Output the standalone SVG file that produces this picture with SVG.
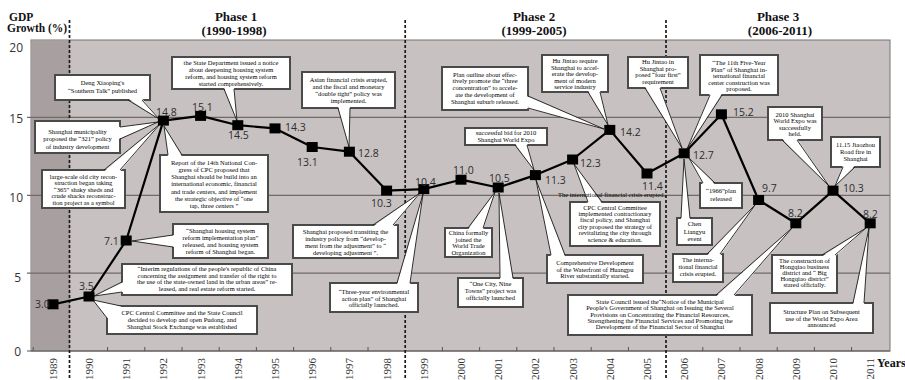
<svg xmlns="http://www.w3.org/2000/svg" width="905" height="380" viewBox="0 0 905 380">
<style>
  .title{font-family:"Liberation Serif",serif;font-weight:bold;fill:#111}
  .phase{font-family:"Liberation Serif",serif;font-weight:bold;font-size:13px;fill:#111;text-anchor:middle}
  .ylab{font-family:"Open Sans","Liberation Sans",sans-serif;font-size:12px;fill:#333;text-anchor:end}
  .xlab{font-family:"Liberation Serif",serif;font-size:11px;fill:#333;text-anchor:end}
  .val{font-family:"Open Sans","Liberation Sans",sans-serif;font-size:10.5px;fill:#2e2e2e}
  .grid{stroke:#716a6a;stroke-width:1.3}
  .dash{stroke:#1a1a1a;stroke-width:1.7;stroke-dasharray:3 2;fill:none}
  .box{fill:#fff;stroke:#4a4a4a;stroke-width:2}
  .wf{fill:#fff}
  .wl{fill:none;stroke:#1a1a1a;stroke-width:0.9}
  .ct{font-family:"Liberation Serif",serif;font-size:6.5px;fill:#000;text-anchor:middle}
  .note{font-family:"Liberation Serif",serif;font-size:6.5px;fill:#000}
  .mk{fill:#000}
</style>

<!-- plot background -->
<g id="plot">
  <rect x="31" y="40" width="859" height="311" fill="#c7c1c1" stroke="#7a7373" stroke-width="1"/>
  <rect x="31.5" y="40.5" width="38.5" height="310" fill="#a8a0a0"/>
  <line class="grid" x1="27" y1="117.4" x2="890" y2="117.4"/>
  <line class="grid" x1="27" y1="195.3" x2="890" y2="195.3"/>
  <line class="grid" x1="27" y1="273.2" x2="890" y2="273.2"/>
  <line x1="27" y1="351" x2="890" y2="351" stroke="#555" stroke-width="1.2"/>
  <g stroke="#555" stroke-width="1">
    <line x1="33.2" y1="347" x2="33.2" y2="351"/><line x1="107.6" y1="347" x2="107.6" y2="351"/>
    <line x1="144.8" y1="347" x2="144.8" y2="351"/><line x1="182" y1="347" x2="182" y2="351"/>
    <line x1="219.2" y1="347" x2="219.2" y2="351"/><line x1="256.4" y1="347" x2="256.4" y2="351"/>
    <line x1="293.6" y1="347" x2="293.6" y2="351"/><line x1="330.8" y1="347" x2="330.8" y2="351"/>
    <line x1="368" y1="347" x2="368" y2="351"/><line x1="442.4" y1="347" x2="442.4" y2="351"/>
    <line x1="479.6" y1="347" x2="479.6" y2="351"/><line x1="516.8" y1="347" x2="516.8" y2="351"/>
    <line x1="554" y1="347" x2="554" y2="351"/><line x1="591.2" y1="347" x2="591.2" y2="351"/>
    <line x1="628.4" y1="347" x2="628.4" y2="351"/><line x1="702.8" y1="347" x2="702.8" y2="351"/>
    <line x1="740" y1="347" x2="740" y2="351"/><line x1="777.2" y1="347" x2="777.2" y2="351"/>
    <line x1="814.4" y1="347" x2="814.4" y2="351"/><line x1="851.6" y1="347" x2="851.6" y2="351"/>
  </g>
  <!-- phase separators -->
  <line class="dash" x1="69.5" y1="20" x2="69.5" y2="380"/>
  <line class="dash" x1="405.2" y1="20" x2="405.2" y2="380"/>
  <line class="dash" x1="666" y1="20" x2="666" y2="380"/>
</g>

<!-- axis titles and labels -->
<g id="axes">
  <text class="title" x="9" y="21" font-size="11.5">GDP</text>
  <text class="title" x="7" y="31.5" font-size="11.5">Growth (%)</text>
  <text class="ylab" x="23" y="51.5">20</text>
  <text class="ylab" x="23" y="122.5">15</text>
  <text class="ylab" x="23" y="201.5">10</text>
  <text class="ylab" x="21" y="281.5">5</text>
  <text class="ylab" x="21" y="356">0</text>
  <text class="title" x="877" y="367" font-size="12">Years</text>
  <text class="xlab" transform="translate(57,358) rotate(-90)">1989</text>
  <text class="xlab" transform="translate(93,358) rotate(-90)">1990</text>
  <text class="xlab" transform="translate(130.2,358) rotate(-90)">1991</text>
  <text class="xlab" transform="translate(167.4,358) rotate(-90)">1992</text>
  <text class="xlab" transform="translate(204.6,358) rotate(-90)">1993</text>
  <text class="xlab" transform="translate(241.8,358) rotate(-90)">1994</text>
  <text class="xlab" transform="translate(279,358) rotate(-90)">1995</text>
  <text class="xlab" transform="translate(316.2,358) rotate(-90)">1996</text>
  <text class="xlab" transform="translate(353.4,358) rotate(-90)">1997</text>
  <text class="xlab" transform="translate(390.6,358) rotate(-90)">1998</text>
  <text class="xlab" transform="translate(427.8,358) rotate(-90)">1999</text>
  <text class="xlab" transform="translate(465,358) rotate(-90)">2000</text>
  <text class="xlab" transform="translate(502.2,358) rotate(-90)">2001</text>
  <text class="xlab" transform="translate(539.4,358) rotate(-90)">2002</text>
  <text class="xlab" transform="translate(576.6,358) rotate(-90)">2003</text>
  <text class="xlab" transform="translate(613.8,358) rotate(-90)">2004</text>
  <text class="xlab" transform="translate(651,358) rotate(-90)">2005</text>
  <text class="xlab" transform="translate(688.2,358) rotate(-90)">2006</text>
  <text class="xlab" transform="translate(725.4,358) rotate(-90)">2007</text>
  <text class="xlab" transform="translate(762.6,358) rotate(-90)">2008</text>
  <text class="xlab" transform="translate(799.8,358) rotate(-90)">2009</text>
  <text class="xlab" transform="translate(837,358) rotate(-90)">2010</text>
  <text class="xlab" transform="translate(874.2,358) rotate(-90)">2011</text>
</g>

<!-- phase headings -->
<g id="phases">
  <text class="phase" x="236" y="21">Phase 1</text>
  <text class="phase" x="234" y="35">(1990-1998)</text>
  <text class="phase" x="534" y="21">Phase 2</text>
  <text class="phase" x="534" y="35">(1999-2005)</text>
  <text class="phase" x="778" y="21">Phase 3</text>
  <text class="phase" x="780" y="35">(2006-2011)</text>
</g>

<!-- event callouts -->
<g id="ev-deng">
  <rect class="box" x="55" y="75" width="95" height="25"/>
  <polygon class="wf" points="128,98.5 142,98.5 159,119"/>
  <polyline class="wl" points="128,100 159,119 142,100"/>
  <text class="ct" x="102.5" y="85">Deng Xiaoping's</text>
  <text class="ct" x="102.5" y="93">“Southern Talk” published</text>
</g>
<g id="ev-321">
  <rect class="box" x="35" y="121" width="85" height="32"/>
  <polygon class="wf" points="118.5,127 118.5,139 158,122"/>
  <polyline class="wl" points="120,127 158,122 120,139"/>
  <text class="ct" x="77.5" y="133.5">Shanghai municipality</text>
  <text class="ct" x="77.5" y="141">proposed the “321” policy</text>
  <text class="ct" x="77.5" y="148.5">of industry development</text>
</g>
<g id="ev-oldcity">
  <rect class="box" x="42" y="170" width="83" height="38"/>
  <polygon class="wf" points="104,171.5 120,171.5 160,124"/>
  <polyline class="wl" points="104,170 160,124 120,170"/>
  <text class="ct" x="83.5" y="178.5">large-scale old city recon-</text>
  <text class="ct" x="83.5" y="185">struction began taking</text>
  <text class="ct" x="83.5" y="191.5">“365” shaky sheds and</text>
  <text class="ct" x="83.5" y="198">crude shacks reconstruc-</text>
  <text class="ct" x="83.5" y="204.5">tion project as a symbol</text>
</g>
<g id="ev-14th">
  <rect class="box" x="160" y="155" width="108" height="57"/>
  <polygon class="wf" points="168,156.5 182,156.5 164,126"/>
  <polyline class="wl" points="168,155 164,126 182,155"/>
  <text class="ct" x="214" y="164.5">Report of the 14th National Con-</text>
  <text class="ct" x="214" y="171.8">gress of CPC proposed that</text>
  <text class="ct" x="214" y="179.1">Shanghai should be build into an</text>
  <text class="ct" x="214" y="186.4">international economic, financial</text>
  <text class="ct" x="214" y="193.7">and trade centers, and implement</text>
  <text class="ct" x="214" y="201">the strategic objective of “one</text>
  <text class="ct" x="214" y="208.3">tap, three centers ”</text>
</g>
<g id="ev-housing94">
  <rect class="box" x="172" y="57" width="118" height="32"/>
  <polygon class="wf" points="224,87.5 234,87.5 237,121"/>
  <polyline class="wl" points="224,89 237,121 234,89"/>
  <text class="ct" x="231" y="65">the State Department issued a notice</text>
  <text class="ct" x="231" y="72">about deepening housing system</text>
  <text class="ct" x="231" y="79">reform, and housing system reform</text>
  <text class="ct" x="231" y="86">started comprehensively.</text>
</g>
<g id="ev-asian">
  <rect class="box" x="302" y="72" width="93" height="36"/>
  <polygon class="wf" points="338,106.5 350,106.5 349,147"/>
  <polyline class="wl" points="338,108 349,147 350,108"/>
  <text class="ct" x="348.5" y="81.5">Asian financial crisis erupted,</text>
  <text class="ct" x="348.5" y="88.5">and the fiscal and monetary</text>
  <text class="ct" x="348.5" y="95.5">“double tight” policy was</text>
  <text class="ct" x="348.5" y="102.5">implemented.</text>
</g>
<g id="ev-housing91">
  <rect class="box" x="173" y="224" width="95" height="34"/>
  <polygon class="wf" points="174.5,235 174.5,247 132,241"/>
  <polyline class="wl" points="173,235 132,241 173,247"/>
  <text class="ct" x="220.5" y="233">“Shanghai housing system</text>
  <text class="ct" x="220.5" y="240">reform implementation plan”</text>
  <text class="ct" x="220.5" y="247">released, and housing system</text>
  <text class="ct" x="220.5" y="254">reform of Shanghai began.</text>
</g>
<g id="ev-interim">
  <rect class="box" x="122" y="264" width="170" height="31"/>
  <polygon class="wf" points="123.5,282 123.5,292 94,296"/>
  <polyline class="wl" points="122,282 94,296 122,292"/>
  <text class="ct" x="207" y="271">“Interim regulations of the people's republic of China</text>
  <text class="ct" x="207" y="277.5">concerning the assignment and transfer of the right to</text>
  <text class="ct" x="207" y="284">the use of the state-owned land in the urban areas” re-</text>
  <text class="ct" x="207" y="290.5">leased, and real estate reform started.</text>
</g>
<g id="ev-pudong">
  <rect class="box" x="107" y="306" width="150" height="28"/>
  <polygon class="wf" points="93,300 121,306 121,307.5 108.5,307.5 108.5,318 107,318"/>
  <polyline class="wl" points="121,306 93,300 107,318"/>
  <text class="ct" x="182" y="315">CPC Central Committee and the State Council</text>
  <text class="ct" x="182" y="322">decided to develop and open Pudong, and</text>
  <text class="ct" x="182" y="329">Shanghai Stock Exchange was established</text>
</g>
<g id="ev-industry">
  <rect class="box" x="293" y="225" width="105" height="33"/>
  <polygon class="wf" points="373,226.5 393,226.5 420,193"/>
  <polyline class="wl" points="373,225 420,193 393,225"/>
  <text class="ct" x="345.5" y="233.5">Shanghai proposed transiting the</text>
  <text class="ct" x="345.5" y="240.5">industry policy from “develop-</text>
  <text class="ct" x="345.5" y="247.5">ment from the adjustment” to “</text>
  <text class="ct" x="345.5" y="254.5">developing adjustment ”.</text>
</g>
<g id="ev-env">
  <rect class="box" x="330" y="283" width="88" height="29"/>
  <polygon class="wf" points="397,284.5 410,284.5 423,194"/>
  <polyline class="wl" points="397,283 423,194 410,283"/>
  <text class="ct" x="374" y="294">“Three-year environmental</text>
  <text class="ct" x="374" y="300.5">action plan” of Shanghai</text>
  <text class="ct" x="374" y="307">officially launched.</text>
</g>
<g id="ev-suburb">
  <rect class="box" x="442" y="67" width="86" height="43"/>
  <polygon class="wf" points="526.5,96 526.5,108 604,129"/>
  <polyline class="wl" points="528,96 604,129 528,108"/>
  <text class="ct" x="485" y="76.5">Plan outline about effec-</text>
  <text class="ct" x="485" y="83.3">tively promote the “three</text>
  <text class="ct" x="485" y="90.1">concentration” to accele-</text>
  <text class="ct" x="485" y="96.9">ate the development of</text>
  <text class="ct" x="485" y="103.7">Shanghai suburb released.</text>
</g>
<g id="ev-service">
  <rect class="box" x="542" y="55" width="66" height="37"/>
  <polygon class="wf" points="588,90.5 600,90.5 608,125"/>
  <polyline class="wl" points="588,92 608,125 600,92"/>
  <text class="ct" x="575" y="63">Hu Jintao require</text>
  <text class="ct" x="575" y="69.5">Shanghai to accel-</text>
  <text class="ct" x="575" y="76">erate the develop-</text>
  <text class="ct" x="575" y="82.5">ment of modern</text>
  <text class="ct" x="575" y="89">service industry</text>
</g>
<g id="ev-bid">
  <rect class="box" x="465" y="128" width="82" height="17"/>
  <polygon class="wf" points="515,143.5 527,143.5 534,170"/>
  <polyline class="wl" points="515,145 534,170 527,145"/>
  <text class="ct" x="506" y="134.8">successful bid for 2010</text>
  <text class="ct" x="506" y="141.8">Shanghai World Expo</text>
</g>
<g id="ev-wto">
  <rect class="box" x="445" y="228" width="47" height="29"/>
  <polygon class="wf" points="468,229.5 483,229.5 495,192"/>
  <polyline class="wl" points="468,228 495,192 483,228"/>
  <text class="ct" x="468.5" y="235">China formally</text>
  <text class="ct" x="468.5" y="241.5">joined the</text>
  <text class="ct" x="468.5" y="248">World Trade</text>
  <text class="ct" x="468.5" y="254.5">Organization</text>
</g>
<g id="ev-onecity">
  <rect class="box" x="458" y="278" width="65" height="29"/>
  <polygon class="wf" points="500,279.5 513,279.5 499,193"/>
  <polyline class="wl" points="500,278 499,193 513,278"/>
  <text class="ct" x="490.5" y="286">“One City, Nine</text>
  <text class="ct" x="490.5" y="293">Towns” project was</text>
  <text class="ct" x="490.5" y="300">officially launched</text>
</g>
<g id="ev-huangpu">
  <rect class="box" x="547" y="255" width="96" height="28"/>
  <polygon class="wf" points="551,256.5 565,256.5 536,180"/>
  <polyline class="wl" points="551,255 536,180 565,255"/>
  <text class="ct" x="595" y="265">Comprehensive Development</text>
  <text class="ct" x="595" y="271.5">of the Waterfront of Huangpu</text>
  <text class="ct" x="595" y="278">River substantially started.</text>
</g>
<g id="ev-science">
  <rect class="box" x="570" y="202" width="90" height="44"/>
  <polygon class="wf" points="588,203.5 602,203.5 574,164"/>
  <polyline class="wl" points="588,202 574,164 602,202"/>
  <text class="ct" x="615" y="209.5">CPC Central Committee</text>
  <text class="ct" x="615" y="215.9">implemented contractionary</text>
  <text class="ct" x="615" y="222.3">fiscal policy, and Shanghai</text>
  <text class="ct" x="615" y="228.7">city proposed the strategy of</text>
  <text class="ct" x="615" y="235.1">revitalizing the city through</text>
  <text class="ct" x="615" y="241.5">science &amp; education.</text>
</g>
<g id="ev-crisis-note">
  <text class="note" x="558" y="197">The international financial crisis erupted.</text>
</g>
<g id="ev-fourfirst">
  <rect class="box" x="628" y="57" width="60" height="31"/>
  <polygon class="wf" points="645,86.5 660,86.5 682,148"/>
  <polyline class="wl" points="645,88 682,148 660,88"/>
  <text class="ct" x="658" y="64">Hu Jintao in</text>
  <text class="ct" x="658" y="70.5">Shanghai pro-</text>
  <text class="ct" x="658" y="77">posed “four first”</text>
  <text class="ct" x="658" y="83.5">requirement</text>
</g>
<g id="ev-11th">
  <rect class="box" x="700" y="55" width="78" height="40"/>
  <polygon class="wf" points="710,93.5 722,93.5 687,149"/>
  <polyline class="wl" points="710,95 687,149 722,95"/>
  <text class="ct" x="739" y="65">“The 11th Five-Year</text>
  <text class="ct" x="739" y="71.5">Plan” of Shanghai in-</text>
  <text class="ct" x="739" y="78">ternational financial</text>
  <text class="ct" x="739" y="84.5">center construction was</text>
  <text class="ct" x="739" y="91">proposed.</text>
</g>
<g id="ev-chen">
  <rect class="box" x="677" y="218" width="35" height="27"/>
  <polygon class="wf" points="681,219.5 690,219.5 684,159"/>
  <polyline class="wl" points="681,218 684,159 690,218"/>
  <text class="ct" x="694.5" y="226">Chen</text>
  <text class="ct" x="694.5" y="233.5">Liangyu</text>
  <text class="ct" x="694.5" y="241">event</text>
</g>
<g id="ev-1966">
  <rect class="box" x="700" y="183" width="42" height="25"/>
  <polygon class="wf" points="703,184.5 715,184.5 689,158"/>
  <polyline class="wl" points="703,183 689,158 715,183"/>
  <text class="ct" x="721" y="193">“1966”plan</text>
  <text class="ct" x="721" y="200.5">released</text>
</g>
<g id="ev-expo">
  <rect class="box" x="768" y="107" width="54" height="33"/>
  <polygon class="wf" points="782,138.5 797,138.5 829,186"/>
  <polyline class="wl" points="782,140 829,186 797,140"/>
  <text class="ct" x="795" y="116.5">2010 Shanghai</text>
  <text class="ct" x="795" y="123">World Expo was</text>
  <text class="ct" x="795" y="129.5">successfully</text>
  <text class="ct" x="795" y="136">held.</text>
</g>
<g id="ev-fire">
  <rect class="box" x="831" y="137" width="49" height="30"/>
  <polygon class="wf" points="843,165.5 855,165.5 835,186"/>
  <polyline class="wl" points="843,167 835,186 855,167"/>
  <text class="ct" x="855.5" y="146.5">11.15 Jiaozhou</text>
  <text class="ct" x="855.5" y="153.5">Road fire in</text>
  <text class="ct" x="855.5" y="160.5">Shanghai</text>
</g>
<g id="ev-crisis">
  <rect class="box" x="673" y="254" width="50" height="28"/>
  <polygon class="wf" points="707,255.5 720,255.5 755,205"/>
  <polyline class="wl" points="707,254 755,205 720,254"/>
  <text class="ct" x="698" y="262">The interna-</text>
  <text class="ct" x="698" y="269">tional financial</text>
  <text class="ct" x="698" y="276">crisis erupted.</text>
</g>
<g id="ev-council">
  <rect class="box" x="568" y="295" width="184" height="40"/>
  <polygon class="wf" points="716,296.5 734,296.5 792,228"/>
  <polyline class="wl" points="716,295 792,228 734,295"/>
  <text class="ct" x="660" y="304">State Council issued the“Notice of the Municipal</text>
  <text class="ct" x="660" y="310.3">People's Government of Shanghai on Issuing the Several</text>
  <text class="ct" x="660" y="316.6">Provisions on Concentrating the Financial Resources,</text>
  <text class="ct" x="660" y="322.9">Strengthening the Financial Services and Promoting the</text>
  <text class="ct" x="660" y="329.2">Development of the Financial Sector of Shanghai</text>
</g>
<g id="ev-hongqiao">
  <rect class="box" x="772" y="255" width="65" height="38"/>
  <polygon class="wf" points="822,256.5 835,256.5 866,228"/>
  <polyline class="wl" points="822,255 866,228 835,255"/>
  <text class="ct" x="804.5" y="262.5">The construction  of</text>
  <text class="ct" x="804.5" y="268.7">Hongqiao business</text>
  <text class="ct" x="804.5" y="274.9">district and “ Big</text>
  <text class="ct" x="804.5" y="281.1">Hongqiao district”</text>
  <text class="ct" x="804.5" y="287.3">stared officially.</text>
</g>
<g id="ev-expoarea">
  <rect class="box" x="770" y="303" width="103" height="30"/>
  <polygon class="wf" points="853,304.5 864,304.5 869,228"/>
  <polyline class="wl" points="853,303 869,228 864,303"/>
  <text class="ct" x="821.5" y="314">Structure Plan on Subsequent</text>
  <text class="ct" x="821.5" y="320.5">use of the World Expo Area</text>
  <text class="ct" x="821.5" y="327">announced</text>
</g>

<!-- GDP growth series -->
<g id="connectors">
  <polyline fill="none" stroke="#000" stroke-width="2.2" stroke-linejoin="round"
    points="53,304.3 89,296.5 126.2,240.5 163.4,120.6 200.6,115.9 237.8,125.2 275,128.4 312.2,147 349.4,151.7 386.6,190.6 423.8,189.1 461,179.7 498.2,187.5 535.4,175.1 572.6,159.5 609.8,129.9 647,173.5 684.2,153.3 721.4,114.3 758.6,200 795.8,223.3 833,190.6 870.2,223.3"/>
</g>

<g id="points">
  <g id="p1989"><rect class="mk" x="47.5" y="299.3" width="11" height="10"/><text class="val" x="35" y="308">3.0</text></g>
  <g id="p1990"><rect class="mk" x="83.5" y="291.5" width="11" height="10"/><text class="val" x="79" y="290">3.5</text></g>
  <g id="p1991"><rect class="mk" x="120.7" y="235.5" width="11" height="10"/><text class="val" x="104" y="245">7.1</text></g>
  <g id="p1992"><rect class="mk" x="157.9" y="115.6" width="11" height="10"/><text class="val" x="156" y="116">14.8</text></g>
  <g id="p1993"><rect class="mk" x="195.1" y="110.9" width="11" height="10"/><text class="val" x="192" y="111">15.1</text></g>
  <g id="p1994"><rect class="mk" x="232.3" y="120.2" width="11" height="10"/><text class="val" x="228" y="139">14.5</text></g>
  <g id="p1995"><rect class="mk" x="269.5" y="123.4" width="11" height="10"/><text class="val" x="285" y="131">14.3</text></g>
  <g id="p1996"><rect class="mk" x="306.7" y="142" width="11" height="10"/><text class="val" x="297" y="166">13.1</text></g>
  <g id="p1997"><rect class="mk" x="343.9" y="146.7" width="11" height="10"/><text class="val" x="358" y="157">12.8</text></g>
  <g id="p1998"><rect class="mk" x="381.1" y="185.6" width="11" height="10"/><text class="val" x="371" y="207">10.3</text></g>
  <g id="p1999"><rect class="mk" x="418.3" y="184.1" width="11" height="10"/><text class="val" x="415" y="186">10.4</text></g>
  <g id="p2000"><rect class="mk" x="455.5" y="174.7" width="11" height="10"/><text class="val" x="453" y="174">11.0</text></g>
  <g id="p2001"><rect class="mk" x="492.7" y="182.5" width="11" height="10"/><text class="val" x="489" y="182">10.5</text></g>
  <g id="p2002"><rect class="mk" x="529.9" y="170.1" width="11" height="10"/><text class="val" x="545" y="184">11.3</text></g>
  <g id="p2003"><rect class="mk" x="567.1" y="154.5" width="11" height="10"/><text class="val" x="580" y="167">12.3</text></g>
  <g id="p2004"><rect class="mk" x="604.3" y="124.9" width="11" height="10"/><text class="val" x="620" y="136">14.2</text></g>
  <g id="p2005"><rect class="mk" x="641.5" y="168.5" width="11" height="10"/><text class="val" x="642" y="189.5">11.4</text></g>
  <g id="p2006"><rect class="mk" x="678.7" y="148.3" width="11" height="10"/><text class="val" x="693" y="159">12.7</text></g>
  <g id="p2007"><rect class="mk" x="715.9" y="109.3" width="11" height="10"/><text class="val" x="733" y="116">15.2</text></g>
  <g id="p2008"><rect class="mk" x="753.1" y="195" width="11" height="10"/><text class="val" x="762" y="192">9.7</text></g>
  <g id="p2009"><rect class="mk" x="790.3" y="218.3" width="11" height="10"/><text class="val" x="788" y="217">8.2</text></g>
  <g id="p2010"><rect class="mk" x="827.5" y="185.6" width="11" height="10"/><text class="val" x="843" y="192">10.3</text></g>
  <g id="p2011"><rect class="mk" x="864.7" y="218.3" width="11" height="10"/><text class="val" x="863" y="218">8.2</text></g>
</g>
</svg>
